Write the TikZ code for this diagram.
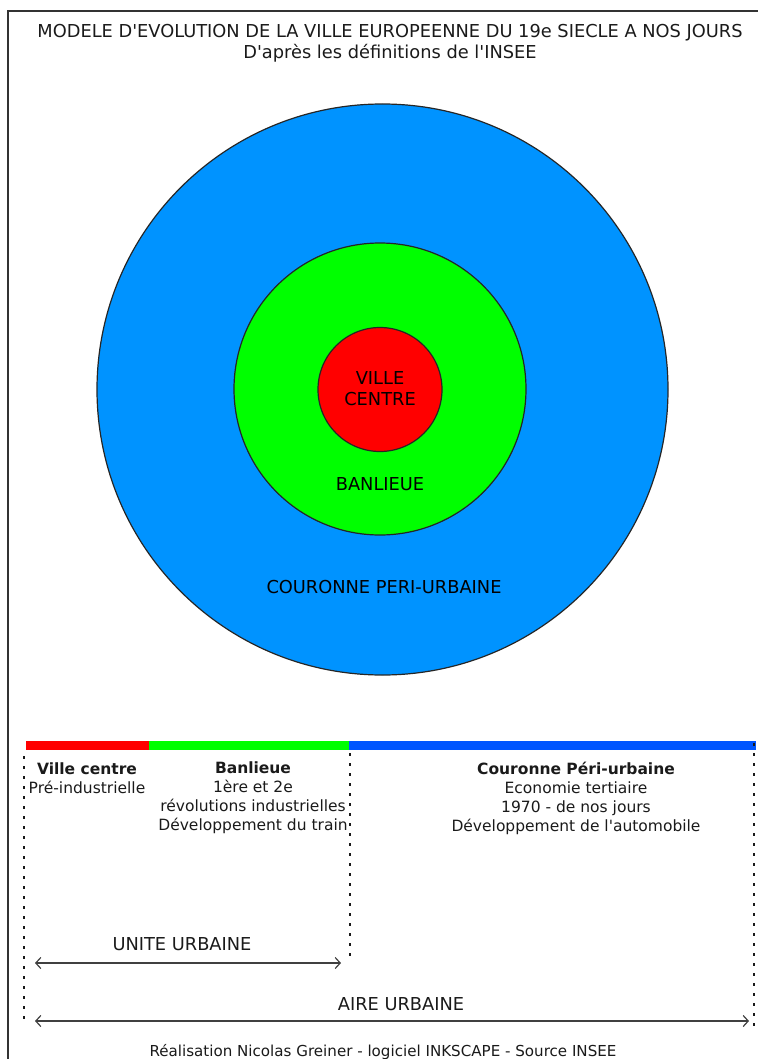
\documentclass[tikz,border=0pt]{standalone}
\usepackage{fontspec}
\setmainfont[Ligatures=TeXOff]{DejaVu Sans}
\usetikzlibrary{arrows.meta}
\definecolor{couronneblue}{HTML}{0093FF}
\definecolor{barblue}{HTML}{0055FF}
\definecolor{ink}{HTML}{1A1A1A}

\begin{document}
\begin{tikzpicture}[x=1pt, y=-1pt,
                   ring/.style={circle, draw=black!85, line width=1.2pt, inner sep=0pt},
                   ringtext/.style={font=\fontsize{17.8}{21}\selectfont, align=center, text=black},
                   lbl/.style={font=\fontsize{15.5}{19}\selectfont, align=center, text=ink},
                   dots/.style={line width=2.5pt, dash pattern=on 2.5pt off 7.5pt, black!90},
                   span/.style={{Straight Barb[length=5pt,width=11pt]}-{Straight Barb[length=5pt,width=11pt]}, line width=1.2pt, black!75}]
\useasboundingbox (0,0) rectangle (758,1059);
\draw[line width=1.5pt, black!80] (8,1059) -- (8,11) -- (758,11);
\node[ringtext, text=ink] (titre) at (390,43) {MODELE D'EVOLUTION DE LA VILLE EUROPEENNE DU 19e SIECLE A NOS JOURS\\D'après les définitions de l'INSEE};
\node[ring, fill=couronneblue, minimum size=571pt] (couronne) at (382.5,389.5) {};
\node[ring, fill=green, minimum size=292pt] (banlieue) at (380,389) {};
\node[ring, fill=red, minimum size=124pt] (centre) at (380,389.5) {};
\node[ringtext] (centrelbl) at (380,389) {VILLE\\CENTRE};
\node[ringtext] (banlieuelbl) at (380,484) {BANLIEUE};
\node[ringtext] (couronnelbl) at (384,587) {COURONNE PERI-URBAINE};
\fill[red] (26,741) rectangle (149,750);
\fill[green] (149,741) rectangle (349,750);
\fill[barblue] (349,741) rectangle (756,750);
\coordinate (dotsL1) at (24,756);
\coordinate (dotsL2) at (24,1026);
\coordinate (dotsM1) at (350,753);
\coordinate (dotsM2) at (350,960);
\coordinate (dotsR1) at (754,743);
\coordinate (dotsR2) at (754,1026);
\draw[dots] (dotsL1) -- (dotsL2);
\draw[dots] (dotsM1) -- (dotsM2);
\draw[dots] (dotsR1) -- (dotsR2);
\node[lbl] (villecentre) at (87,778.5) {\textbf{Ville centre}\\Pré-industrielle};
\node[lbl] (banlieuetxt) at (253,797.5) {\textbf{Banlieue}\\1ère et 2e\\révolutions industrielles\\Développement du train};
\node[lbl] (couronnetxt) at (576,798.5) {\textbf{Couronne Péri-urbaine}\\Economie tertiaire\\1970 - de nos jours\\Développement de l'automobile};
\coordinate (uniteL) at (35,963);
\coordinate (uniteR) at (341,963);
\coordinate (aireL) at (35,1021);
\coordinate (aireR) at (749,1021);
\draw[span] (uniteL) -- (uniteR);
\draw[span] (aireL) -- (aireR);
\node[ringtext, text=ink] (unite) at (182,944) {UNITE URBAINE};
\node[ringtext, text=ink] (aire) at (401,1004) {AIRE URBAINE};
\node[lbl, font=\fontsize{15.1}{19}\selectfont] (source) at (383,1052) {Réalisation Nicolas Greiner - logiciel INKSCAPE - Source INSEE};
\end{tikzpicture}
\end{document}
